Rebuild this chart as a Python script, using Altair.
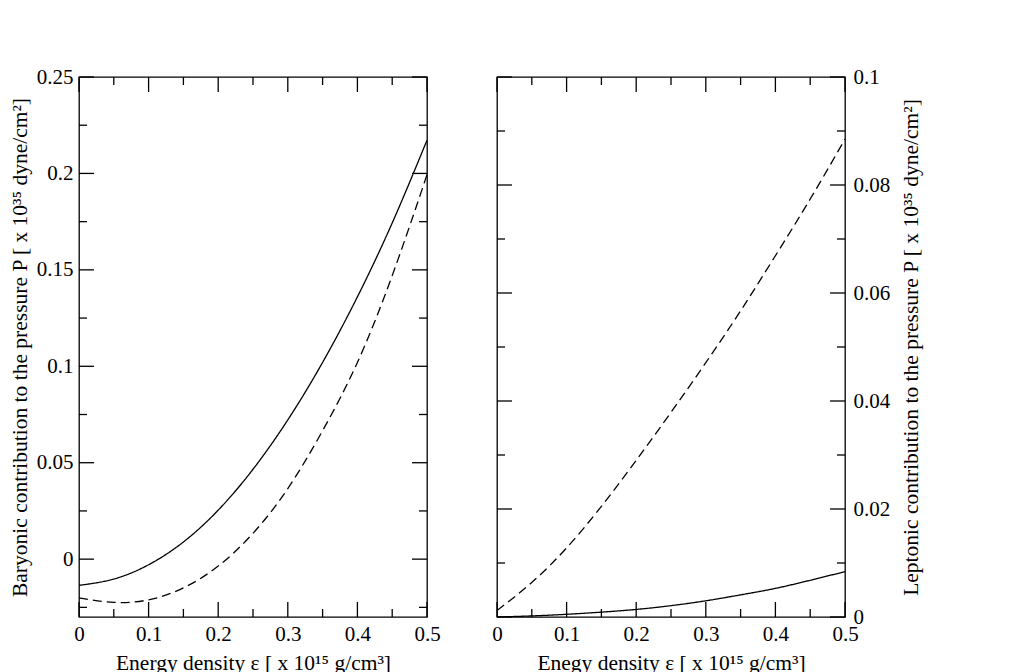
import altair as alt
import pandas as pd

# ---- data ----
x_vals = [0, 0.05, 0.1, 0.15, 0.2, 0.25, 0.3, 0.35, 0.4, 0.45, 0.5]
baryon_solid = [-0.0136, -0.0103, -0.0029, 0.0089, 0.0254, 0.0466, 0.0722, 0.102, 0.136, 0.1743, 0.2172]
baryon_dashed = [-0.0201, -0.0224, -0.0211, -0.0149, -0.0036, 0.0134, 0.0366, 0.0666, 0.102, 0.147, 0.1993]
lepton_solid = [0.0, 0.0002, 0.0005, 0.0009, 0.0014, 0.0021, 0.0030, 0.0041, 0.0053, 0.0068, 0.0084]
lepton_dashed = [0.0012, 0.0064, 0.0128, 0.0205, 0.029, 0.0379, 0.0471, 0.0567, 0.0669, 0.0774, 0.0885]

x_major = [0, 0.1, 0.2, 0.3, 0.4, 0.5]
x_minor = [0.05, 0.15, 0.25, 0.35, 0.45]
left_major = [0, 0.05, 0.1, 0.15, 0.2, 0.25]
left_minor = [-0.025, 0.025, 0.075, 0.125, 0.175, 0.225]
right_major = [0, 0.02, 0.04, 0.06, 0.08, 0.1]
right_minor = [0.01, 0.03, 0.05, 0.07, 0.09]

left_xtitle = "Energy density ε [ x 10¹⁵ g/cm³]"
right_xtitle = "Enegy density ε [ x 10¹⁵ g/cm³]"
left_ytitle = "Baryonic contribution to the pressure P [ x 10³⁵ dyne/cm²]"
right_ytitle = "Leptonic contribution to the pressure P [ x 10³⁵ dyne/cm²]"

W, H = 348, 540
FONT = "Liberation Serif"
MAJ, MIN = 15, 8
SW = 1.3


def panel(solid, dashed, ydomain, ymajor, yminor, xtitle, ytitle, right):
    n = len(x_vals)
    df = pd.DataFrame({
        "x": x_vals + x_vals,
        "y": solid + dashed,
        "s": ["solid"] * n + ["dashed"] * n,
    })
    xs = alt.Scale(domain=[0, 0.5], nice=False, zero=False)
    ys = alt.Scale(domain=ydomain, nice=False, zero=False)
    if right:
        yaxis = alt.Axis(values=ymajor, title=ytitle, orient="right", format="~g",
                         labelFlush=False, labelPadding=8, titlePadding=11,
                         titleAngle=270, titleBaseline="top")
    else:
        yaxis = alt.Axis(values=ymajor, title=ytitle, orient="left", format="~g",
                         labelFlush=False, labelPadding=6, titlePadding=5)
    xaxis = alt.Axis(values=x_major, title=xtitle, format="~g",
                     labelFlush=False, labelPadding=6, titlePadding=8)
    lines = alt.Chart(df).mark_line(color="black", strokeWidth=SW, interpolate="natural", clip=True).encode(
        x=alt.X("x:Q", scale=xs, axis=xaxis),
        y=alt.Y("y:Q", scale=ys, axis=yaxis),
        strokeDash=alt.StrokeDash("s:N", scale=alt.Scale(domain=["solid", "dashed"], range=[[1, 0], [9, 5]]),
                                  legend=None),
    )
    layers = [lines]
    for vals, L in ((ymajor, MAJ), (yminor, MIN)):
        d = pd.DataFrame({"y": vals})
        layers.append(alt.Chart(d).mark_rule(color="black", strokeWidth=SW).encode(
            y=alt.Y("y:Q", scale=ys, axis=yaxis), x=alt.value(0), x2=alt.value(L)))
        layers.append(alt.Chart(d).mark_rule(color="black", strokeWidth=SW).encode(
            y=alt.Y("y:Q", scale=ys, axis=yaxis), x=alt.value(W - L), x2=alt.value(W)))
    for vals, L in ((x_major, MAJ), (x_minor, MIN)):
        d = pd.DataFrame({"x": vals})
        layers.append(alt.Chart(d).mark_rule(color="black", strokeWidth=SW).encode(
            x=alt.X("x:Q", scale=xs, axis=xaxis), y=alt.value(H - L), y2=alt.value(H)))
        layers.append(alt.Chart(d).mark_rule(color="black", strokeWidth=SW).encode(
            x=alt.X("x:Q", scale=xs, axis=xaxis), y=alt.value(0), y2=alt.value(L)))
    return alt.layer(*layers).properties(width=W, height=H)


left = panel(baryon_solid, baryon_dashed, [-0.03, 0.25], left_major, left_minor,
             left_xtitle, left_ytitle, False)
right = panel(lepton_solid, lepton_dashed, [0, 0.1], right_major, right_minor,
              right_xtitle, right_ytitle, True)

chart = alt.hconcat(left, right, spacing=70, bounds="flush").properties(
    padding={"left": 0, "top": 57, "right": 5, "bottom": 5},
    background="white",
).configure_view(
    stroke="black", strokeWidth=SW
).configure_axis(
    domain=False, ticks=False, grid=False,
    labelFont=FONT, labelFontSize=21, labelColor="black",
    titleFont=FONT, titleFontSize=21.5, titleFontWeight="normal", titleColor="black",
)

chart.save("out.html", embed_options={"renderer": "svg", "actions": False})
